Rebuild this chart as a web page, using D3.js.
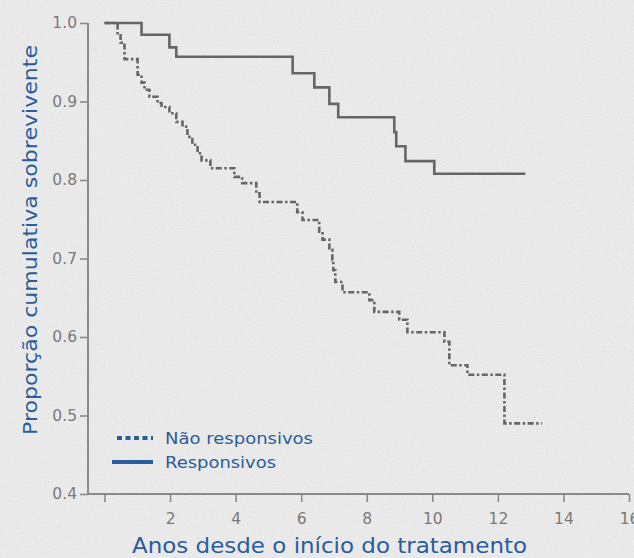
<!DOCTYPE html>
<html>
<head>
<meta charset="utf-8">
<script src="https://cdn.jsdelivr.net/npm/d3@7"></script>
<style>
  html, body { margin: 0; padding: 0; background: #ebebeb; }
  svg { display: block; }
</style>
</head>
<body>
<svg id="chart" width="634" height="558"></svg>
<script>
// ---- Data ----
const xTicks = [0, 2, 4, 6, 8, 10, 12, 14, 16];
const yTicks = [0.4, 0.5, 0.6, 0.7, 0.8, 0.9, 1.0];

const seriesNames = ["Não responsivos", "Responsivos"];

// Não responsivos (Kaplan-Meier steps)
const naoTimes = [0, 0.40, 0.49, 0.61, 1.01, 1.13, 1.22, 1.37, 1.62, 1.74, 1.98, 2.19, 2.38, 2.53, 2.68, 2.84, 2.96, 3.23, 3.96, 4.20, 4.63, 4.73, 5.88, 6.04, 6.55, 6.65, 6.86, 6.95, 6.98, 7.04, 7.26, 8.08, 8.23, 8.99, 9.24, 10.37, 10.52, 11.07, 12.20, 13.35];
const naoSurv  = [1.0, 0.987, 0.975, 0.954, 0.934, 0.924, 0.915, 0.906, 0.898, 0.893, 0.885, 0.874, 0.868, 0.855, 0.845, 0.834, 0.825, 0.815, 0.804, 0.796, 0.783, 0.772, 0.759, 0.749, 0.734, 0.724, 0.711, 0.698, 0.685, 0.670, 0.657, 0.647, 0.632, 0.622, 0.606, 0.594, 0.564, 0.552, 0.490, 0.490];

// Responsivos
const respTimes = [0, 1.13, 1.98, 2.19, 5.74, 6.40, 6.86, 7.13, 8.84, 8.90, 9.18, 10.06, 12.84];
const respSurv  = [1.0, 0.985, 0.969, 0.957, 0.936, 0.918, 0.897, 0.880, 0.861, 0.843, 0.824, 0.808, 0.808];

const xTitle = "Anos desde o início do tratamento";
const yTitle = "Proporção cumulativa sobrevivente";

// ---- Drawing ----
const svg = d3.select("#chart");
const W = 634, H = 558;
const FONT = "'DejaVu Sans', 'Open Sans', sans-serif";
const BLUE = "#2b5c9c";
const GREY_TXT = "#7a7a7a";
const AXIS = "#8a8a8a";
const LINE = "#666666";

// textured background
const defs = svg.append("defs");
const f = defs.append("filter").attr("id", "paper").attr("x", 0).attr("y", 0).attr("width", "100%").attr("height", "100%");
f.append("feTurbulence").attr("type", "fractalNoise").attr("baseFrequency", 0.9).attr("numOctaves", 2).attr("seed", 3).attr("result", "n");
f.append("feColorMatrix").attr("in", "n").attr("type", "matrix")
  .attr("values", "0 0 0 0 0.55  0 0 0 0 0.55  0 0 0 0 0.55  0 0 0 -1.1 0.75");
svg.append("rect").attr("width", W).attr("height", H).attr("fill", "#ececec");
svg.append("rect").attr("width", W).attr("height", H).attr("filter", "url(#paper)").attr("opacity", 0.35);

const x = d3.scaleLinear().domain([0, 16]).range([104.5, 629]);
const y = d3.scaleLinear().domain([0.4, 1.0]).range([494, 23]);
const axisX0 = 88;

// Y axis
const gy = svg.append("g").attr("transform", `translate(${axisX0},0)`)
  .call(d3.axisLeft(y).tickValues(yTicks).tickFormat(d3.format(".1f")).tickSize(8).tickSizeOuter(0));
gy.select(".domain").remove();
gy.append("line").attr("x1", 0).attr("x2", 0).attr("y1", y(1.0)).attr("y2", y(0.4))
  .attr("stroke", AXIS).attr("stroke-width", 2);
gy.selectAll(".tick line").attr("stroke", AXIS).attr("stroke-width", 1.6);
gy.selectAll(".tick text").attr("fill", GREY_TXT).attr("font-family", FONT).attr("font-size", 15.5).attr("x", -11);

// X axis
const gx = svg.append("g").attr("transform", `translate(0,${y(0.4)})`)
  .call(d3.axisBottom(x).tickValues(xTicks).tickFormat(d => d === 0 ? "" : d).tickSize(8).tickSizeOuter(0));
gx.select(".domain").remove();
gx.append("line").attr("x1", axisX0).attr("x2", x(16)).attr("y1", 0).attr("y2", 0)
  .attr("stroke", AXIS).attr("stroke-width", 2);
gx.selectAll(".tick line").attr("stroke", AXIS).attr("stroke-width", 1.6);
gx.selectAll(".tick text").attr("fill", GREY_TXT).attr("font-family", FONT).attr("font-size", 15.5).attr("dy", "1.25em");

// Axis titles
svg.append("text").attr("x", (132 + 527) / 2).attr("y", 553).attr("text-anchor", "middle")
  .attr("fill", BLUE).attr("font-family", FONT).attr("font-size", 21).attr("textLength", 395)
  .attr("lengthAdjust", "spacingAndGlyphs").text(xTitle);
svg.append("text").attr("transform", `translate(37,${(45 + 435) / 2}) rotate(-90)`).attr("text-anchor", "middle")
  .attr("fill", BLUE).attr("font-family", FONT).attr("font-size", 20).attr("textLength", 390)
  .attr("lengthAdjust", "spacingAndGlyphs").text(yTitle);

// Curves
const line = d3.line().x(d => x(d[0])).y(d => y(d[1])).curve(d3.curveStepAfter);
const naoData = naoTimes.map((t, i) => [t, naoSurv[i]]);
const respData = respTimes.map((t, i) => [t, respSurv[i]]);

svg.append("path").datum(naoData).attr("d", line).attr("fill", "none")
  .attr("stroke", LINE).attr("stroke-width", 2.6).attr("stroke-dasharray", "6,2.5,2.5,2.5");
svg.append("path").datum(respData).attr("d", line).attr("fill", "none")
  .attr("stroke", LINE).attr("stroke-width", 2.6);

// Legend
const legend = svg.append("g");
const legY = [438, 462];
legend.append("line").attr("x1", 117).attr("x2", 153).attr("y1", legY[0]).attr("y2", legY[0])
  .attr("stroke", BLUE).attr("stroke-width", 4).attr("stroke-dasharray", "5,3.5");
legend.append("line").attr("x1", 112).attr("x2", 153).attr("y1", legY[1]).attr("y2", legY[1])
  .attr("stroke", BLUE).attr("stroke-width", 4);
const legW = [148, 111];
seriesNames.forEach((n, i) => {
  legend.append("text").attr("x", 165).attr("y", legY[i]).attr("dy", "0.36em")
    .attr("fill", BLUE).attr("font-family", FONT).attr("font-size", 16.5)
    .attr("textLength", legW[i]).attr("lengthAdjust", "spacingAndGlyphs").text(n);
});
</script>
</body>
</html>
